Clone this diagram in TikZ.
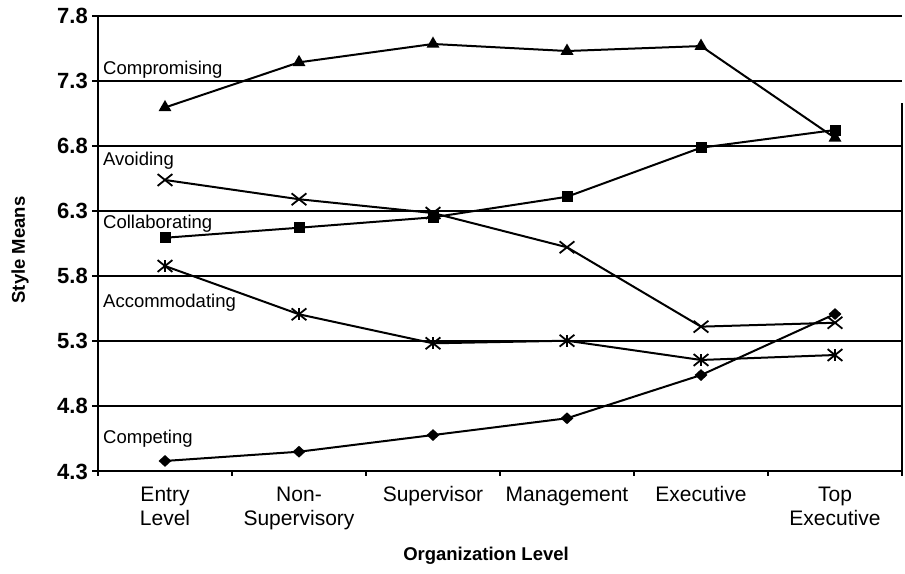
\documentclass[tikz,border=0pt]{standalone}
\usepackage{fontspec}
\setmainfont{Liberation Sans}
\usetikzlibrary{shapes.geometric,shapes.misc}
\begin{document}
\begin{tikzpicture}[x=1pt,y=1pt,
  series/.style={line width=2pt, black, line join=round},
  gridline/.style={line width=2pt, black},
  tri/.style={regular polygon, regular polygon sides=3, fill=black, inner sep=0pt, minimum size=15pt},
  sq/.style={rectangle, fill=black, inner sep=0pt, minimum size=11pt},
  xm/.style={cross out, draw=black, line width=1.8pt, inner sep=0pt, minimum width=13pt, minimum height=10pt},
  astm/.style={xm, append after command={(\tikzlastnode.north) edge[line width=1.8pt] (\tikzlastnode.south)}},
  dia/.style={diamond, fill=black, inner sep=0pt, minimum width=13pt, minimum height=12pt},
  ticklab/.style={font=\fontsize{22}{22}\selectfont\bfseries, anchor=east, inner sep=0pt, xshift=-10pt},
  catlab/.style={font=\fontsize{21}{24}\selectfont, align=center, anchor=north, inner sep=0pt, yshift=-15pt},
  serlab/.style={font=\fontsize{18.5}{18.5}\selectfont, anchor=west, inner sep=0pt},
  axtitle/.style={font=\fontsize{18.5}{18.5}\selectfont\bfseries, inner sep=0pt}
]
\fill[white] (0,0) rectangle (905,573);
\useasboundingbox (0,0) rectangle (905,573);

\begin{scope}[x=134pt,y=130.14pt,shift={(98pt,-458.1pt)}]
  % grid lines and ticks
  \foreach \v [count=\k] in {4.3,4.8,5.3,5.8,6.3,6.8,7.3,7.8} {
    \draw[gridline] (0,\v) -- (6,\v);
    \draw[gridline] (0,\v) -- ++(-6pt,0);
    \node[ticklab] (yl\k) at (0,\v) {\v};
  }
  \draw[gridline] (0,7.8) -- (0,4.3);
  \draw[gridline] (6,7.13) -- (6,4.3);
  \foreach \i in {0,...,6} \draw[gridline] (\i,4.3) -- ++(0,-5pt);

  % category labels
  \node[catlab] (c1) at (0.5,4.3) {Entry\\Level};
  \node[catlab] (c2) at (1.5,4.3) {Non-\\Supervisory};
  \node[catlab] (c3) at (2.5,4.3) {Supervisor};
  \node[catlab] (c4) at (3.5,4.3) {Management};
  \node[catlab] (c5) at (4.5,4.3) {Executive};
  \node[catlab] (c6) at (5.5,4.3) {Top\\Executive};

  % data points
  \foreach \v [count=\i] in {7.097,7.444,7.585,7.531,7.569,6.863} \coordinate (cm\i) at (\i-0.5,\v);
  \foreach \v [count=\i] in {6.096,6.173,6.253,6.411,6.788,6.924} \coordinate (cl\i) at (\i-0.5,\v);
  \foreach \v [count=\i] in {6.540,6.392,6.286,6.023,5.413,5.443} \coordinate (av\i) at (\i-0.5,\v);
  \foreach \v [count=\i] in {5.879,5.508,5.285,5.305,5.157,5.195} \coordinate (ac\i) at (\i-0.5,\v);
  \foreach \v [count=\i] in {4.381,4.452,4.580,4.709,5.041,5.510} \coordinate (ct\i) at (\i-0.5,\v);
\end{scope}

% series lines
\draw[series] (cm1) -- (cm2) -- (cm3) -- (cm4) -- (cm5) -- (cm6);
\draw[series] (cl1) -- (cl2) -- (cl3) -- (cl4) -- (cl5) -- (cl6);
\draw[series] (av1) -- (av2) -- (av3) -- (av4) -- (av5) -- (av6);
\draw[series] (ac1) -- (ac2) -- (ac3) -- (ac4) -- (ac5) -- (ac6);
\draw[series] (ct1) -- (ct2) -- (ct3) -- (ct4) -- (ct5) -- (ct6);

% markers
\foreach \i in {1,...,6} {
  \node[tri] (cmk\i) at (cm\i) {};
  \node[sq] (clk\i) at (cl\i) {};
  \node[xm] (avk\i) at (av\i) {};
  \node[astm] (ack\i) at (ac\i) {};
  \node[dia] (ctk\i) at (ct\i) {};
}

% series labels
\node[serlab] (lcm) at (103,503) {Compromising};
\node[serlab] (lav) at (103,412) {Avoiding};
\node[serlab] (lcl) at (103,349) {Collaborating};
\node[serlab] (lac) at (103,270) {Accommodating};
\node[serlab] (lct) at (103,134) {Competing};

% axis titles
\node[axtitle, rotate=90] (ytitle) at (20,323) {Style Means};
\node[axtitle] (xtitle) at (486,17) {Organization Level};
\end{tikzpicture}
\end{document}
